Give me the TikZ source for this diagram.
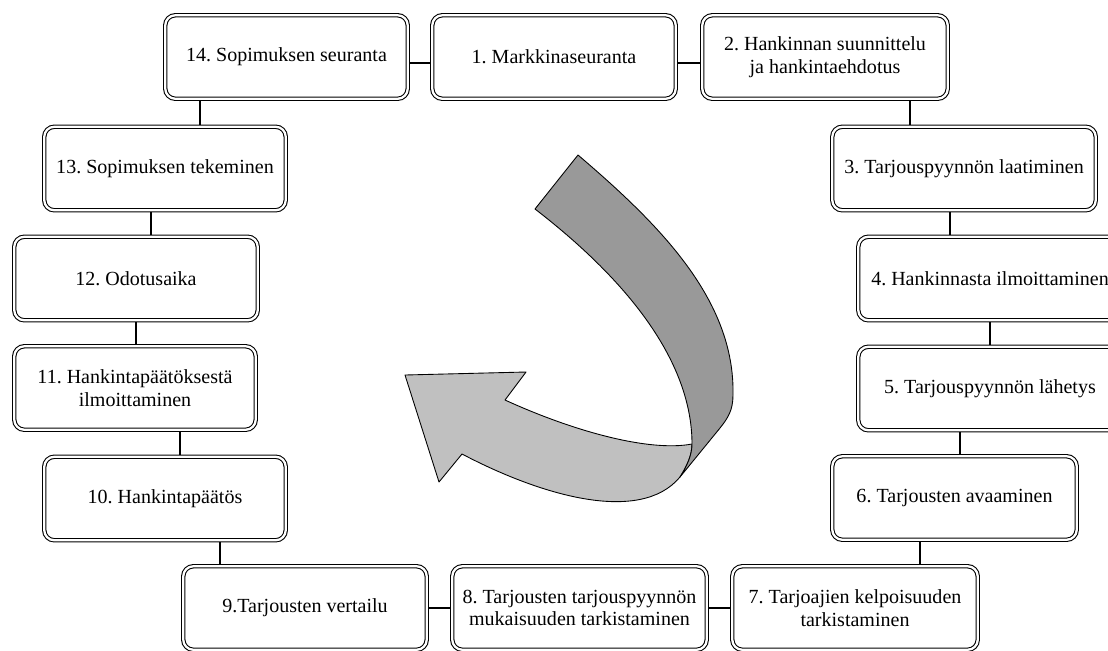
\documentclass[tikz,border=0pt]{standalone}
\usepackage{fontspec}
\setmainfont{Liberation Serif}
\usepackage{xcolor}
\usetikzlibrary{positioning}

\definecolor{ribbondark}{HTML}{999999}
\definecolor{ribbonlight}{HTML}{C0C0C0}

\begin{document}
\frenchspacing
\begin{tikzpicture}[
      x=0.02cm, y=-0.02cm,
      stage/.style={draw, double, double distance=1.3pt, line width=0.6pt,
        rounded corners=0.2cm, fill=white, align=center, inner sep=0pt,
        outer sep=1.25pt, minimum height=1.67cm, minimum width=4.87cm,
        font=\fontsize{11.4}{13}\selectfont},
      wide/.style={stage, minimum width=5.27cm},
      link/.style={line width=0.6pt},
      ribbon/.style={draw, line width=0.5pt, line join=round}
    ]
    \useasboundingbox (0,0) rectangle (1108,650);

    % top row
    \node[stage, minimum width=4.85cm] (n14) at (286.5,57) {14. Sopimuksen seuranta};
    \node[stage] (n1) at (554,57) {1. Markkinaseuranta};
    \node[stage, minimum width=4.91cm] (n2) at (825,57) {2. Hankinnan suunnittelu\\ja hankintaehdotus};

    % right column
    \node[wide] (n3) at (964,168.5) {3. Tarjouspyynnön laatiminen};
    \node[wide] (n4) at (990,278.5) {4. Hankinnasta ilmoittaminen};
    \node[wide] (n5) at (990,388.5) {5. Tarjouspyynnön lähetys};
    \node[stage, minimum width=4.89cm] (n6) at (954.5,498) {6. Tarjousten avaaminen};

    % bottom row
    \node[stage, minimum width=4.91cm] (n7) at (855,608) {7. Tarjoajien kelpoisuuden\\tarkistaminen};
    \node[stage, minimum width=5.09cm] (n8) at (579.5,608) {8. Tarjousten tarjouspyynnön\\mukaisuuden tarkistaminen};
    \node[stage] (n9) at (305,608) {9.Tarjousten vertailu};

    % left column
    \node[stage, minimum width=4.83cm] (n10) at (165,498.5) {10. Hankintapäätös};
    \node[stage, minimum width=4.83cm] (n11) at (135,388) {11. Hankintapäätöksestä\\ilmoittaminen};
    \node[stage] (n12) at (136,278.5) {12. Odotusaika};
    \node[stage, minimum width=4.83cm] (n13) at (165,168.5) {13. Sopimuksen tekeminen};

    % connectors
    \draw[link] ([yshift=-0.12cm]n14.east) -- ([yshift=-0.12cm]n1.west);
    \draw[link] ([yshift=-0.12cm]n1.east) -- ([yshift=-0.12cm]n2.west);
    \draw[link] ([xshift=1.7cm]n2.south) -- ([xshift=1.7cm]n2.south |- n3.north);
    \draw[link] ([xshift=-0.28cm]n3.south) -- ([xshift=-0.28cm]n3.south |- n4.north);
    \draw[link] (n4.south) -- (n4.south |- n5.north);
    \draw[link] ([xshift=-0.6cm]n5.south) -- ([xshift=-0.6cm]n5.south |- n6.north);
    \draw[link] ([xshift=-0.69cm]n6.south) -- ([xshift=-0.69cm]n6.south |- n7.north);
    \draw[link] (n7.west) -- (n8.east);
    \draw[link] (n8.west) -- (n9.east);
    \draw[link] ([xshift=1.1cm]n10.south) -- ([xshift=1.1cm]n10.south |- n9.north);
    \draw[link] ([xshift=0.9cm]n11.south) -- ([xshift=0.9cm]n11.south |- n10.north);
    \draw[link] (n12.south) -- (n12.south |- n11.north);
    \draw[link] ([xshift=0.3cm]n12.north) -- ([xshift=0.3cm]n12.north |- n13.south);
    \draw[link] ([xshift=-1.73cm]n14.south) -- ([xshift=-1.73cm]n14.south |- n13.north);

    % curved ribbon arrow
    \path[ribbon, fill=ribbonlight] (692,444)
      .. controls (650,452) and (575,432) .. (505,400)
      -- (526,372) -- (405,375) -- (439,482) -- (462,454)
      .. controls (540,495) and (640,525) .. (680,477)
      .. controls (687,466) and (692,455) .. (692,444) -- cycle;
    \path[ribbon, fill=ribbondark] (578,155)
      .. controls (660,225) and (735,300) .. (733,395)
      .. controls (733,410) and (728,418) .. (720,428)
      -- (680,477)
      .. controls (687,466) and (692,455) .. (692,444)
      .. controls (692,370) and (640,290) .. (535,209) -- cycle;
  \end{tikzpicture}
\end{document}
